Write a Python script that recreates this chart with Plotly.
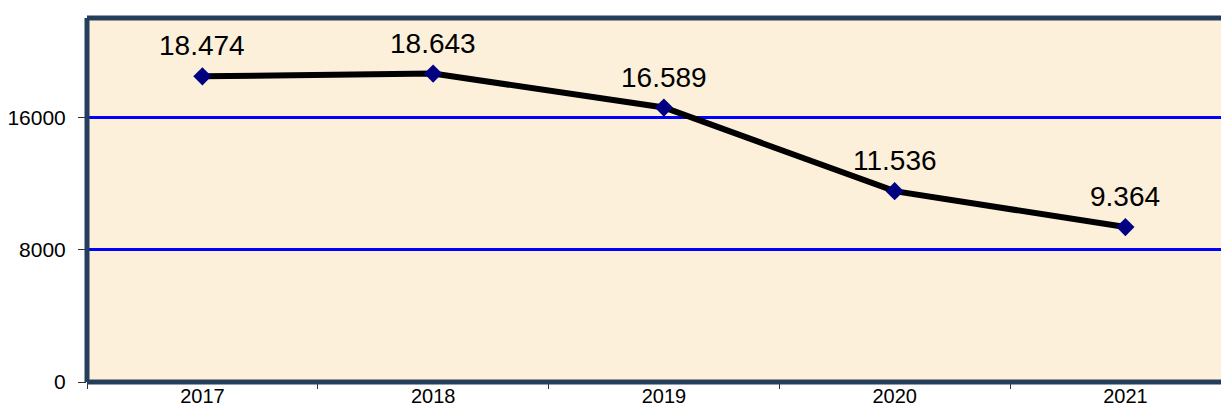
import plotly.graph_objects as go

years = ["2017", "2018", "2019", "2020", "2021"]
values = [18474, 18643, 16589, 11536, 9364]
y_ticks = [0, 8000, 16000]
y_tick_text = ["0", "8000", "16000"]

labels = [f"{v:,}".replace(",", ".") for v in values]

fig = go.Figure()
fig.add_trace(go.Scatter(
    x=years, y=values, mode="lines+markers",
    line=dict(color="#000000", width=6),
    marker=dict(symbol="diamond", size=14, color="#000080"),
    cliponaxis=False, hoverinfo="skip",
))

for i, (v, t) in enumerate(zip(values, labels)):
    fig.add_annotation(x=i, y=v, text=t, showarrow=False, yanchor="bottom",
                       yshift=13, font=dict(size=28, color="#000000",
                                            family="Liberation Sans, Arial"))

border = "#263e5e"
for x0, y0, x1, y1 in [(0, 0, 1, 0), (0, 1, 1, 1), (0, 0, 0, 1)]:
    fig.add_shape(type="line", xref="paper", yref="paper", x0=x0, y0=y0,
                  x1=x1, y1=y1, line=dict(color=border, width=5), layer="above")

# page body has an 8px default margin, so the figure is offset by 8px
fig.update_layout(
    width=1221, height=402,
    margin=dict(l=79, r=0, t=10, b=28),
    paper_bgcolor="#ffffff",
    plot_bgcolor="#fcf0da",
    showlegend=False,
    font=dict(family="Liberation Sans, Arial", color="#000000"),
)
fig.update_xaxes(
    type="category", range=[-0.5, 4.449], automargin=False,
    tickson="boundaries", ticks="outside", ticklen=6, tickcolor="#333333",
    tickfont=dict(size=20), showgrid=False, showline=False,
)
fig.update_yaxes(
    range=[0, 22000], tickvals=y_ticks, ticktext=y_tick_text, automargin=False,
    ticks="outside", ticklen=8, tickcolor="#333333", tickfont=dict(size=21),
    ticklabelstandoff=8,
    showgrid=True, gridcolor="#0000ff", gridwidth=2.5, zeroline=False,
    showline=False,
)

fig.write_html("out.html")
